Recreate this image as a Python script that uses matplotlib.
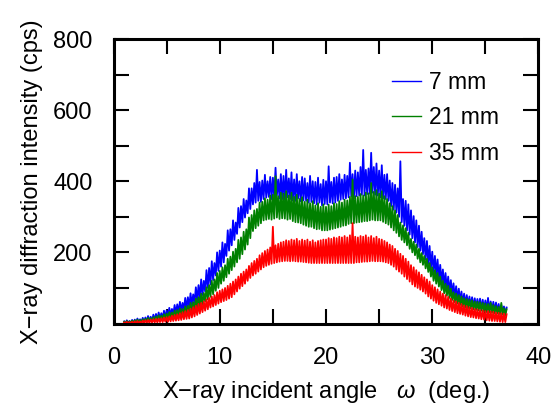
import numpy as np
import matplotlib
matplotlib.use('Agg')
import matplotlib.pyplot as plt
from matplotlib.ticker import MultipleLocator
from matplotlib.lines import Line2D

plt.rcParams['font.family'] = ['Liberation Sans', 'DejaVu Sans']
plt.rcParams['mathtext.fontset'] = 'custom'
plt.rcParams['mathtext.it'] = 'Liberation Sans:italic'

# incident angle grid (deg.), 0.125 deg steps from 1 to 37
angle = np.arange(1.0, 37.001, 0.125)

# intensities (cps); one row per degree, noise peaks and dips alternating
int_7mm = [
    6, 0, 9, 1, 7, 2, 10, 1,
    11, 2, 14, 3, 12, 4, 16, 3,
    17, 5, 21, 7, 19, 6, 25, 9,
    27, 10, 31, 13, 29, 14, 36, 16,
    37, 18, 44, 22, 41, 24, 52, 27,
    54, 30, 61, 35, 58, 38, 72, 42,
    74, 46, 85, 52, 82, 58, 102, 64,
    108, 70, 124, 80, 120, 90, 150, 100,
    156, 110, 175, 122, 170, 135, 200, 148,
    205, 160, 228, 172, 224, 190, 262, 205,
    265, 220, 290, 235, 284, 252, 325, 270,
    330, 285, 350, 298, 346, 310, 380, 322,
    380, 335, 395, 340, 432, 345, 398, 342,
    402, 350, 418, 354, 400, 356, 412, 350,
    410, 355, 438, 360, 405, 352, 420, 350,
    415, 348, 432, 355, 408, 350, 425, 346,
    405, 345, 420, 352, 400, 344, 412, 346,
    408, 345, 395, 340, 415, 342, 400, 338,
    398, 335, 410, 340, 392, 332, 404, 336,
    400, 335, 442, 340, 398, 338, 410, 340,
    412, 345, 420, 348, 405, 350, 418, 352,
    415, 355, 452, 358, 420, 352, 430, 358,
    425, 360, 440, 362, 488, 360, 432, 364,
    436, 365, 480, 368, 440, 362, 450, 360,
    430, 355, 445, 352, 418, 350, 420, 345,
    402, 330, 395, 320, 390, 312, 380, 300,
    456, 285, 350, 275, 345, 262, 335, 250,
    318, 240, 302, 228, 290, 215, 275, 205,
    258, 195, 240, 180, 232, 168, 218, 155,
    202, 145, 190, 135, 180, 125, 165, 115,
    152, 105, 142, 96, 132, 88, 122, 80,
    113, 72, 105, 66, 98, 60, 90, 55,
    84, 52, 80, 50, 76, 48, 74, 45,
    71, 44, 69, 42, 70, 40, 67, 39,
    65, 38, 72, 37, 62, 36, 61, 35,
    59, 34, 55, 32, 52, 30, 48, 28,
    45]

int_21mm = [
    5, 0, 7, 1, 6, 2, 8, 1,
    9, 2, 11, 3, 10, 3, 12, 4,
    13, 4, 16, 5, 15, 6, 18, 7,
    20, 8, 23, 10, 22, 11, 26, 12,
    28, 14, 32, 15, 31, 17, 36, 18,
    38, 20, 42, 22, 41, 24, 48, 26,
    50, 28, 58, 33, 60, 38, 70, 42,
    74, 48, 84, 54, 86, 62, 102, 68,
    108, 75, 120, 82, 124, 92, 142, 100,
    148, 112, 158, 120, 164, 130, 182, 140,
    188, 150, 202, 160, 210, 172, 235, 182,
    242, 195, 258, 208, 265, 222, 298, 240,
    305, 260, 318, 268, 322, 275, 340, 282,
    342, 290, 352, 292, 348, 294, 360, 292,
    362, 295, 414, 298, 358, 294, 368, 296,
    365, 295, 372, 292, 360, 294, 368, 288,
    356, 285, 362, 284, 350, 282, 355, 278,
    342, 275, 348, 272, 338, 272, 344, 268,
    332, 265, 338, 266, 328, 262, 335, 262,
    328, 262, 334, 264, 330, 266, 338, 268,
    336, 270, 344, 272, 340, 275, 348, 276,
    346, 280, 356, 282, 405, 282, 358, 284,
    356, 285, 364, 286, 360, 288, 368, 288,
    366, 290, 395, 292, 370, 290, 375, 290,
    365, 290, 372, 286, 358, 282, 350, 278,
    338, 270, 330, 262, 318, 255, 305, 245,
    284, 235, 276, 228, 268, 220, 255, 210,
    238, 200, 230, 192, 222, 182, 210, 172,
    198, 165, 190, 155, 182, 145, 170, 132,
    158, 120, 150, 112, 142, 104, 132, 94,
    120, 85, 112, 78, 106, 72, 98, 66,
    88, 60, 84, 56, 80, 52, 76, 48,
    71, 45, 69, 43, 67, 42, 65, 40,
    62, 38, 61, 37, 60, 36, 58, 34,
    56, 32, 55, 31, 58, 30, 52, 29,
    49, 28, 47, 26, 58, 25, 43, 23,
    40]

int_35mm = [
    3, 0, 5, 0, 4, 1, 5, 0,
    6, 0, 7, 1, 6, 1, 8, 2,
    9, 2, 10, 2, 11, 3, 12, 3,
    13, 3, 14, 4, 15, 4, 17, 5,
    18, 5, 20, 6, 22, 7, 24, 8,
    26, 9, 29, 10, 32, 12, 35, 13,
    38, 14, 42, 17, 46, 20, 50, 24,
    55, 28, 58, 32, 62, 36, 68, 40,
    72, 45, 76, 48, 80, 52, 88, 56,
    92, 60, 96, 63, 100, 66, 106, 70,
    112, 74, 118, 82, 124, 90, 132, 98,
    140, 105, 146, 112, 152, 120, 162, 128,
    170, 135, 176, 140, 182, 146, 192, 152,
    198, 158, 204, 162, 208, 165, 214, 168,
    272, 170, 220, 172, 224, 174, 228, 175,
    230, 176, 234, 176, 232, 175, 236, 176,
    234, 175, 238, 174, 232, 174, 236, 173,
    233, 172, 236, 171, 230, 170, 234, 170,
    228, 170, 232, 170, 234, 170, 236, 170,
    236, 170, 240, 170, 238, 170, 242, 170,
    240, 170, 244, 170, 242, 170, 246, 170,
    242, 170, 248, 170, 282, 170, 244, 172,
    242, 172, 246, 173, 244, 174, 248, 174,
    242, 175, 246, 176, 240, 175, 244, 175,
    238, 175, 236, 174, 232, 172, 228, 170,
    222, 165, 218, 160, 210, 152, 204, 146,
    196, 140, 190, 132, 182, 125, 174, 118,
    164, 110, 158, 104, 150, 100, 144, 95,
    137, 90, 130, 84, 124, 76, 118, 70,
    108, 64, 102, 58, 96, 54, 90, 50,
    84, 45, 80, 42, 75, 38, 70, 35,
    65, 32, 62, 29, 58, 27, 55, 25,
    51, 22, 49, 20, 46, 18, 44, 17,
    41, 15, 40, 14, 38, 12, 37, 11,
    35, 9, 35, 8, 34, 7, 33, 7,
    31, 6, 30, 5, 29, 4, 28, 4,
    26]

series = [(int_7mm, 'blue', '7 mm'), (int_21mm, 'green', '21 mm'), (int_35mm, 'red', '35 mm')]

figure = plt.figure(figsize=(5.54, 4.05), dpi=100)
axis = figure.add_axes([0.2049, 0.2012, 0.7671, 0.7025])

for values, colour, name in series:
    axis.plot(angle, values, color=colour, lw=1.3)

axis.set_xlim(0, 40)
axis.set_ylim(0, 800)
axis.xaxis.set_major_locator(MultipleLocator(10))
axis.xaxis.set_minor_locator(MultipleLocator(5))
axis.yaxis.set_major_locator(MultipleLocator(200))
axis.yaxis.set_minor_locator(MultipleLocator(100))
axis.tick_params(which='both', direction='in', top=True, right=True, length=11, width=1.5)
axis.tick_params(which='major', labelsize=17)
axis.tick_params(axis='x', which='major', pad=17)
axis.tick_params(axis='y', which='major', pad=15)
for spine in axis.spines.values():
    spine.set_linewidth(2.2)

axis.set_xlabel('X\u2212ray incident angle   $\\omega$  (deg.)', fontsize=17, labelpad=7)
axis.set_ylabel('X\u2212ray diffraction intensity (cps)', fontsize=17, labelpad=7)

handles = [Line2D([], [], color=c, lw=1) for _, c, _ in series]
axis.legend(handles, [n for _, _, n in series], loc='upper left', bbox_to_anchor=(0.655, 0.888),
            frameon=False, fontsize=16.5, handlelength=1.25, handletextpad=0.35,
            labelspacing=0.55, borderpad=0, borderaxespad=0)

figure.savefig('out.png', dpi=100)
